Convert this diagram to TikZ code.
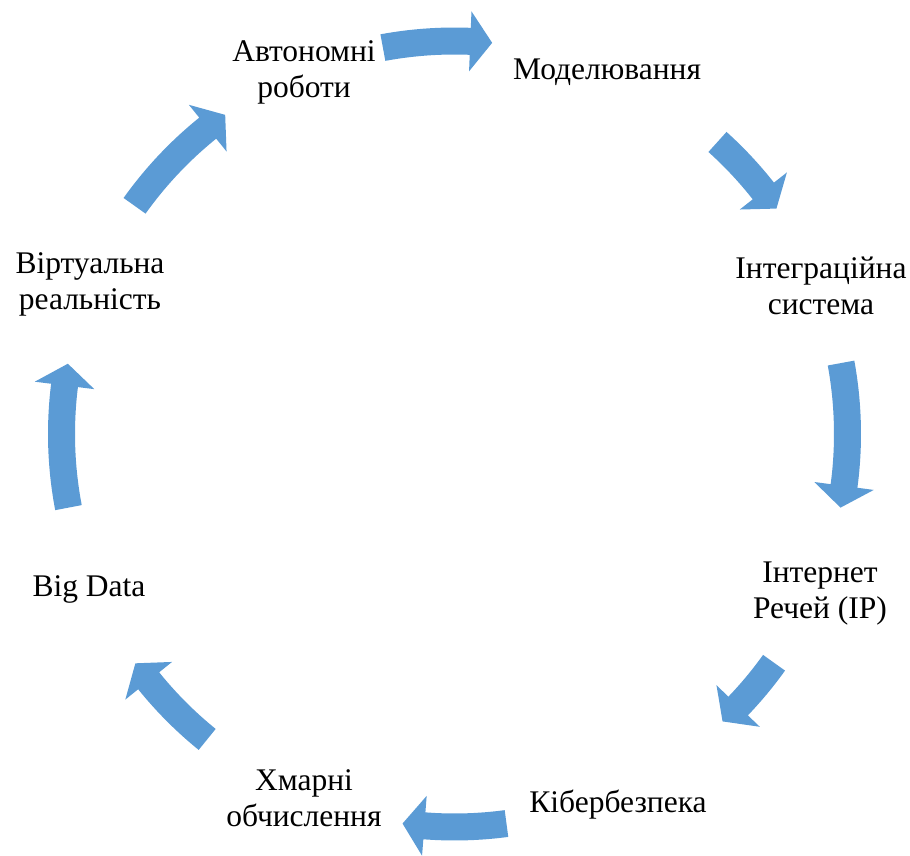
\documentclass[tikz,border=0pt]{standalone}
\usepackage{fontspec}
\setmainfont{Liberation Serif}
\newfontfamily\lblfont{Liberation Serif}
\definecolor{arrowblue}{RGB}{91,155,213}
\tikzset{
  lbl/.style={font=\lblfont\fontsize{31.5}{36}\selectfont, align=center, anchor=base, inner sep=0pt},
  cyclefill/.style={fill=arrowblue, draw=none}
}
\newcommand{\blockarc}[2]{%
  \pgfmathsetmacro{\arTail}{#1}%
  \pgfmathsetmacro{\arTip}{#2}%
  \pgfmathsetmacro{\arBase}{#2+3.2}%
  \fill[cyclefill] (\arTail:406.5pt) arc[start angle=\arTail, end angle=\arBase, radius=406.5pt]
    -- (\arBase:423pt) -- (\arTip:393pt) -- (\arBase:363pt) -- (\arBase:379.5pt)
    arc[start angle=\arBase, end angle=\arTail, radius=379.5pt] -- cycle;
}
\begin{document}
\begin{tikzpicture}[x=1pt,y=1pt]
\useasboundingbox (0,0) rectangle (910,855);
\begin{scope}[shift={(454.5,421)}]
  \blockarc{144.5}{125.7}
  \blockarc{100.5}{84.5}
  \blockarc{48}{35}
  \blockarc{10.4}{-10.8}
  \blockarc{-35.6}{-47}
  \blockarc{-82.4}{-97.6}
  \blockarc{-129}{-144.3}
  \blockarc{-169.2}{-190.3}
\end{scope}
\node[lbl] (auto) at (304,757) {Автономні\\роботи};
\node[lbl] (model) at (607,775) {Моделювання};
\node[lbl] (integ) at (821,540) {Інтеграційна\\система};
\node[lbl] (iot) at (820,237) {Інтернет\\Речей (IP)};
\node[lbl] (cyber) at (618,43) {Кібербезпека};
\node[lbl] (cloud) at (304,29) {Хмарні\\обчислення};
\node[lbl] (bigdata) at (89,259) {Big Data};
\node[lbl] (vr) at (90,545) {Віртуальна\\реальність};
\end{tikzpicture}
\end{document}
